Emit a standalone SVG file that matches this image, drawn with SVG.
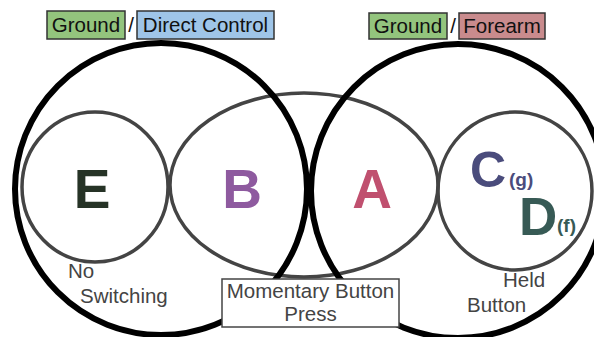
<svg xmlns="http://www.w3.org/2000/svg" width="594" height="337" viewBox="0 0 594 337">
<style>
.big{fill:none;stroke:#000;stroke-width:6}
.sm{fill:none;stroke:#444;stroke-width:3.5}
.lbl{font-family:"Liberation Sans",Arial,sans-serif;font-size:20.5px;fill:#444}
.top{font-family:"Liberation Sans",Arial,sans-serif;font-size:20.5px;fill:#111}
.tbox{stroke:#333;stroke-width:1.5}
.L{font-family:"Liberation Sans",Arial,sans-serif;font-weight:bold;font-size:55px}
.sub{font-family:"Liberation Sans",Arial,sans-serif;font-weight:bold;font-size:19px}
</style>
<rect width="594" height="337" fill="#fff"/>
<g id="sets">
<ellipse id="momentary" class="sm" cx="304" cy="185" rx="134" ry="92"/>
<circle id="left-big" class="big" cx="161" cy="189" r="146"/>
<circle id="right-big" class="big" cx="458" cy="191" r="147"/>
<g id="node-E"><ellipse class="sm" cx="95" cy="187" rx="73" ry="75"/>
<text class="L" x="92" y="208" text-anchor="middle" fill="#263326">E</text></g>
<g id="node-B"><text class="L" x="242" y="208" text-anchor="middle" fill="#8e5a9f">B</text></g>
<g id="node-A"><text class="L" x="372" y="208" text-anchor="middle" fill="#c0506f">A</text></g>
<g id="node-CD"><ellipse class="sm" cx="515" cy="191" rx="77" ry="79"/>
<text class="L" x="470" y="187" fill="#4a4c7c" style="font-size:50px">C</text>
<text class="sub" x="509" y="186" fill="#4a4c7c">(g)</text>
<text class="L" x="519" y="235" fill="#375a55" style="font-size:53px">D</text>
<text class="sub" x="557" y="232" fill="#375a55">(f)</text></g>
</g>
<g id="labels">
<text class="lbl" x="68" y="278">No</text>
<text class="lbl" x="80" y="303">Switching</text>
<text class="lbl" x="503" y="287">Held</text>
<text class="lbl" x="467" y="312">Button</text>
<g id="momentary-label">
<rect x="222" y="279" width="177" height="48" fill="#fff" stroke="#444" stroke-width="1.5"/>
<text class="lbl" x="310.5" y="298" text-anchor="middle">Momentary Button</text>
<text class="lbl" x="310.5" y="321" text-anchor="middle">Press</text>
</g>
</g>
<g id="top-left">
<rect class="tbox" x="47" y="11" width="78" height="28" fill="#93c47d"/>
<text class="top" x="86" y="32" text-anchor="middle">Ground</text>
<text class="top" x="131" y="32" text-anchor="middle">/</text>
<rect class="tbox" x="137" y="11" width="137" height="28" fill="#9fc5e8"/>
<text class="top" x="205.5" y="32" text-anchor="middle">Direct Control</text>
</g>
<g id="top-right">
<rect class="tbox" x="369" y="13" width="78" height="26" fill="#93c47d"/>
<text class="top" x="408" y="33" text-anchor="middle">Ground</text>
<text class="top" x="453" y="33" text-anchor="middle">/</text>
<rect class="tbox" x="459" y="13" width="86" height="26" fill="#c98b8d"/>
<text class="top" x="502" y="33" text-anchor="middle">Forearm</text>
</g>
</svg>
